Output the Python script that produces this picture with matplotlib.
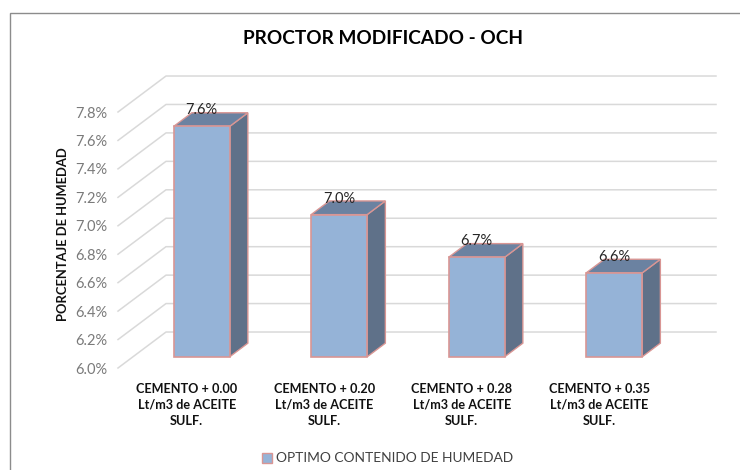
import matplotlib
matplotlib.use("Agg")
import matplotlib.pyplot as plt
from matplotlib.patches import Polygon, Rectangle
from matplotlib.transforms import offset_copy

categories = [
    "CEMENTO + 0.00\nLt/m3 de ACEITE\nSULF.",
    "CEMENTO + 0.20\nLt/m3 de ACEITE\nSULF.",
    "CEMENTO + 0.28\nLt/m3 de ACEITE\nSULF.",
    "CEMENTO + 0.35\nLt/m3 de ACEITE\nSULF.",
]
values = [7.62, 7.00, 6.70, 6.59]
labels = ["7.6%", "7.0%", "6.7%", "6.6%"]
y_ticks = [6.0, 6.2, 6.4, 6.6, 6.8, 7.0, 7.2, 7.4, 7.6, 7.8]

W, H = 740, 470
plt.rcParams["font.family"] = ["Lato", "DejaVu Sans"]

fig = plt.figure(figsize=(W / 100, H / 100), dpi=100)

# chart frame
fig.add_artist(Rectangle((10 / W, -0.02), 1.0, 1 - 13 / H + 0.02, transform=fig.transFigure,
                         fill=False, ec="#8c8c8c", lw=1))

ax = fig.add_axes([118 / W, 1 - 368 / H, 550 / W, 256 / H])
ax.set_xlim(-0.5, 3.5)
ax.set_ylim(6.0, 7.8)
for s in ax.spines.values():
    s.set_visible(False)
ax.patch.set_visible(False)

# depth of the fake 3d box, in data units
dx = 48 / 137.5
dy = 0.253
half = 0.2036
d0, d1 = 0.31, 0.69

grid = "#d9d9d9"
for t in y_ticks:
    ax.plot([-0.5, -0.5 + dx, 3.5 + dx], [t, t + dy, t + dy], color=grid, lw=1.1,
            clip_on=False, zorder=1)

edge = "#d99694"
for i, v in enumerate(values):
    x0 = i - half + d0 * dx
    x1 = i + half + d0 * dx
    y0 = 6.0 + d0 * dy
    top = v + d0 * dy
    sx = (d1 - d0) * dx
    sy = (d1 - d0) * dy
    ax.add_patch(Polygon([(x1, y0), (x1 + sx, y0 + sy), (x1 + sx, top + sy), (x1, top)],
                         fc="#5f7189", ec=edge, lw=1, clip_on=False, zorder=3))
    ax.add_patch(Polygon([(x0, top), (x1, top), (x1 + sx, top + sy), (x0 + sx, top + sy)],
                         fc="#6b82a1", ec=edge, lw=1, clip_on=False, zorder=3))
    ax.add_patch(Polygon([(x0, y0), (x1, y0), (x1, top), (x0, top)],
                         fc="#95b3d7", ec=edge, lw=1.2, clip_on=False, zorder=4))
    ax.text(i + d0 * dx, top, labels[i], ha="center", va="center", fontsize=10.5, color="#262626",
            zorder=5, clip_on=False,
            transform=offset_copy(ax.transData, fig=fig, x=0, y=16, units="dots"))

ax.set_yticks(y_ticks)
ax.set_yticklabels(["%.1f%%" % t for t in y_ticks], fontsize=10.5, color="#7a7a7a")
ax.tick_params(axis="y", length=0, pad=8)
ax.set_xticks(range(len(categories)))
ax.set_xticklabels(categories, fontsize=9.1, fontweight="bold", color="#111111", linespacing=1.42)
ax.tick_params(axis="x", length=0, pad=10.5)

fig.text(383 / W, 1 - 38 / H, "PROCTOR MODIFICADO - OCH", ha="center", va="center",
         fontsize=13.7, fontweight="bold", color="black")
fig.text(63 / W, 1 - 234 / H, "PORCENTAJE DE HUMEDAD", rotation=90, ha="center", va="center",
         fontsize=9.4, fontweight="bold", color="#111111")

# legend
fig.add_artist(Rectangle((262 / W, 1 - 463 / H), 10 / W, 10 / H, transform=fig.transFigure,
                         fc="#95b3d7", ec=edge, lw=1))
fig.text(276 / W, 1 - 458 / H, "OPTIMO CONTENIDO DE HUMEDAD", ha="left", va="center",
         fontsize=9.9, color="#404040")

fig.savefig("out.png", dpi=100)
